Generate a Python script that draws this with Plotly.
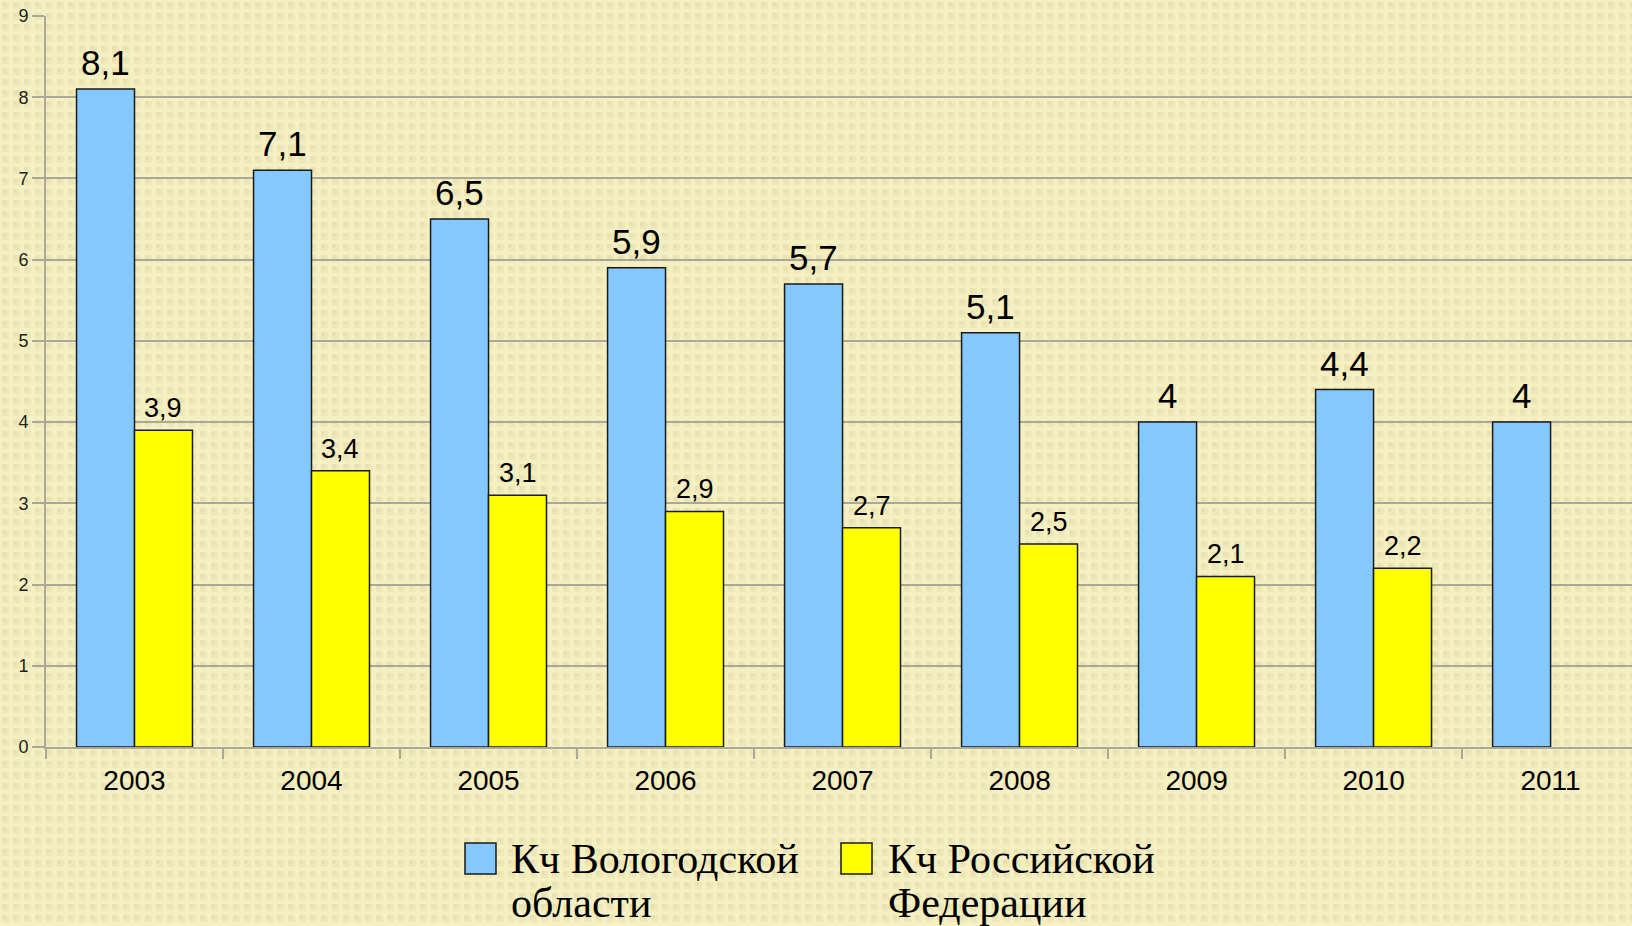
import base64
import plotly.graph_objects as go

# ---- data ----
years = ["2003", "2004", "2005", "2006", "2007", "2008", "2009", "2010", "2011"]
vologda = [8.1, 7.1, 6.5, 5.9, 5.7, 5.1, 4.0, 4.4, 4.0]
russia = [3.9, 3.4, 3.1, 2.9, 2.7, 2.5, 2.1, 2.2, None]
name_vologda = ["Кч Вологодской", "области"]
name_russia = ["Кч Российской", "Федерации"]
y_ticks = [0, 1, 2, 3, 4, 5, 6, 7, 8, 9]

W, H = 1632, 926
ML, MR, MT, MB = 46, 0, 16, 179
PW, PH = W - ML - MR, H - MT - MB

BLUE = "#85C8FD"
YELLOW = "#FFFF00"
BG = "#F5F0C2"
GRID = "#A9A89A"
EDGE = "#1a1a1a"


def fmt(v):
    return f"{v:g}".replace(".", ",")


def px_x(p):
    return (p - ML) / PW


def px_y(p):
    return 1 - (p - MT) / PH


fig = go.Figure()
fig.add_trace(go.Bar(x=years, y=vologda, name=" ".join(name_vologda), showlegend=False,
                     marker=dict(color=BLUE, line=dict(color=EDGE, width=1.5))))
fig.add_trace(go.Bar(x=years, y=russia, name=" ".join(name_russia), showlegend=False,
                     marker=dict(color=YELLOW, line=dict(color=EDGE, width=1.5))))

# value labels
cat_px = PW / 8.96
bar_px = cat_px * 0.655 / 2
for i, (a, b) in enumerate(zip(vologda, russia)):
    if a is not None:
        fig.add_annotation(x=i, y=a, text=fmt(a), showarrow=False, xanchor="center",
                           yanchor="bottom", xshift=-bar_px / 2, yshift=5,
                           font=dict(family="Liberation Sans", size=35, color="#000"))
    if b is not None:
        fig.add_annotation(x=i, y=b, text=fmt(b), showarrow=False, xanchor="center",
                           yanchor="bottom", xshift=bar_px / 2, yshift=5,
                           font=dict(family="Liberation Sans", size=27, color="#000"))

# legend (drawn below the plot)
legend_items = [(BLUE, name_vologda, 465, 509), (YELLOW, name_russia, 841, 886)]
for color, lines, sq_x, tx_x in legend_items:
    fig.add_shape(type="rect", xref="paper", yref="paper",
                  x0=px_x(sq_x), x1=px_x(sq_x + 31), y0=px_y(874), y1=px_y(843),
                  fillcolor=color, line=dict(color=EDGE, width=1.5))
    for k, line in enumerate(lines):
        fig.add_annotation(xref="paper", yref="paper", x=px_x(tx_x), y=px_y(859 + 44 * k),
                           text=line, showarrow=False, xanchor="left", yanchor="middle",
                           font=dict(family="Liberation Serif", size=42, color="#000"))

# dotted background texture
svg = (f'<svg xmlns="http://www.w3.org/2000/svg" width="{W}" height="{H}">'
       '<defs><pattern id="p" width="11" height="11" patternUnits="userSpaceOnUse">'
       f'<rect width="11" height="11" fill="{BG}"/>'
       '<rect x="2" y="2" width="7" height="7" fill="#EEE8B8"/>'
       '<rect x="2" y="2" width="4" height="4" fill="#E9E2B0"/>'
       '</pattern></defs><rect width="100%" height="100%" fill="url(#p)"/></svg>')
src = "data:image/svg+xml;base64," + base64.b64encode(svg.encode()).decode()
fig.add_layout_image(source=src, xref="paper", yref="paper",
                     x=-ML / PW, y=1 + MT / PH, sizex=W / PW, sizey=H / PH,
                     xanchor="left", yanchor="top", sizing="stretch", layer="below")

fig.update_layout(
    width=W, height=H,
    margin=dict(l=ML, r=MR, t=MT, b=MB),
    paper_bgcolor=BG, plot_bgcolor="rgba(0,0,0,0)",
    barmode="group", bargap=0.345, bargroupgap=0,
    showlegend=False,
    xaxis=dict(type="category", range=[-0.5, 8.46], showgrid=False,
               showline=True, linecolor=GRID, linewidth=2,
               ticks="outside", tickson="boundaries", ticklen=10, tickcolor=GRID, tickwidth=2,
               ticklabelstandoff=7,
               tickfont=dict(family="Liberation Sans", size=28, color="#000")),
    yaxis=dict(range=[0, 9], tickvals=y_ticks, showgrid=True, gridcolor=GRID, gridwidth=2,
               showline=True, linecolor=GRID, linewidth=2, zeroline=False,
               ticks="outside", ticklen=12, tickcolor=GRID, tickwidth=2,
               tickfont=dict(family="Liberation Sans", size=18, color="#222")),
)

fig.write_html(
    "out.html",
    config={"displayModeBar": False},
    post_script=("document.body.style.margin='0';"
                 "document.body.style.overflow='hidden';"
                 f"document.body.style.background='{BG}';"),
)
